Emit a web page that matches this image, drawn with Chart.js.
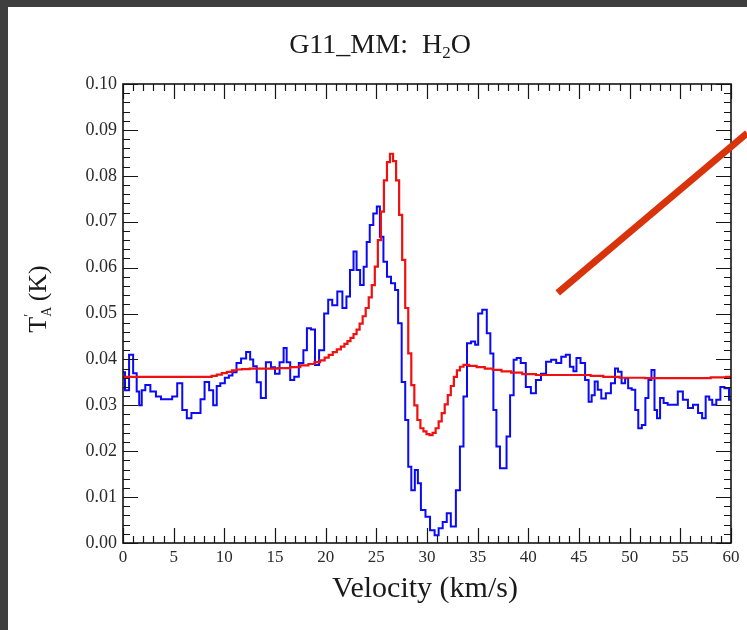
<!DOCTYPE html>
<html>
<head>
<meta charset="utf-8">
<script src="https://cdn.jsdelivr.net/npm/chart.js@4.4.1/dist/chart.umd.min.js"></script>
<style>
  html, body { margin: 0; padding: 0; background: #3f3f3f; }
  #panel { position: absolute; left: 8px; top: 7px; width: 739px; height: 623px; background: #fff; }
  #spectrum { position: absolute; left: 0; top: 0; }
</style>
</head>
<body>
<div id="panel"></div>
<canvas id="spectrum" width="747" height="630"></canvas>
<script>
// ---------- Data ----------
// observed H2O spectrum, blue histogram
var velocity = [
	0.0, 0.4, 0.8, 1.2, 1.5, 1.7, 2.0, 2.4, 3.0, 3.5, 4.0, 4.6, 5.1, 5.6, 6.1, 6.5, 7.0, 7.5, 7.8, 8.3,
	8.7, 9.1, 9.4, 9.8, 10.3, 10.6, 11.0, 11.4, 11.9, 12.4, 12.7, 13.0, 13.4, 13.8, 14.4, 14.8, 15.2, 15.7, 16.0, 16.3,
	16.7, 17.1, 17.6, 18.0, 18.3, 18.8, 19.1, 19.6, 20.1, 20.4, 20.9, 21.4, 21.9, 22.2, 22.6, 22.9, 23.2, 23.6, 23.9, 24.2,
	24.5, 24.9, 25.2, 25.5, 25.9, 26.2, 26.7, 27.0, 27.3, 27.7, 28.0, 28.3, 28.6, 29.0, 29.2, 29.6, 30.1, 30.5, 31.0, 31.3,
	31.8, 32.1, 32.6, 33.1, 33.4, 33.8, 34.1, 34.6, 34.9, 35.2, 35.7, 36.1, 36.4, 36.7, 37.0, 37.4, 37.7, 38.0, 38.4, 38.7,
	39.0, 39.5, 40.0, 40.5, 41.0, 41.5, 42.0, 42.5, 43.0, 43.5, 43.9, 44.3, 44.6, 44.9, 45.4, 45.8, 46.1, 46.4, 46.7, 47.0,
	47.4, 47.9, 48.4, 48.7, 49.0, 49.4, 49.7, 50.0, 50.4, 50.7, 51.0, 51.4, 51.7, 52.0, 52.3, 52.6, 52.8, 53.2, 53.5, 54.0,
	54.5, 55.0, 55.5, 56.0, 56.5, 57.0, 57.3, 57.7, 58.0, 58.3, 58.8, 59.1, 59.6, 60.0
];
var tObserved = [
	0.0372, 0.0333, 0.0410, 0.0370, 0.0330, 0.0300, 0.0333, 0.0344, 0.0330, 0.0319, 0.0313, 0.0313, 0.0319, 0.0348, 0.0290, 0.0272, 0.0283, 0.0283, 0.0313, 0.0351,
	0.0333, 0.0300, 0.0342, 0.0348, 0.0360, 0.0365, 0.0372, 0.0392, 0.0402, 0.0416, 0.0400, 0.0385, 0.0350, 0.0316, 0.0394, 0.0383, 0.0369, 0.0394, 0.0425, 0.0394,
	0.0355, 0.0362, 0.0392, 0.0420, 0.0468, 0.0465, 0.0388, 0.0420, 0.0500, 0.0530, 0.0518, 0.0548, 0.0512, 0.0537, 0.0595, 0.0635, 0.0595, 0.0562, 0.0602, 0.0656,
	0.0693, 0.0718, 0.0733, 0.0667, 0.0613, 0.0580, 0.0566, 0.0551, 0.0479, 0.0351, 0.0268, 0.0166, 0.0115, 0.0159, 0.0130, 0.0072, 0.0057, 0.0028, 0.0017, 0.0032,
	0.0046, 0.0065, 0.0036, 0.0115, 0.0210, 0.0319, 0.0435, 0.0439, 0.0432, 0.0500, 0.0508, 0.0457, 0.0413, 0.0290, 0.0210, 0.0163, 0.0163, 0.0232, 0.0322, 0.0399,
	0.0403, 0.0392, 0.0340, 0.0326, 0.0355, 0.0369, 0.0395, 0.0399, 0.0392, 0.0406, 0.0410, 0.0384, 0.0374, 0.0403, 0.0392, 0.0355, 0.0308, 0.0322, 0.0352, 0.0334,
	0.0315, 0.0326, 0.0348, 0.0380, 0.0373, 0.0348, 0.0359, 0.0337, 0.0334, 0.0290, 0.0250, 0.0257, 0.0316, 0.0355, 0.0377, 0.0290, 0.0272, 0.0316, 0.0305, 0.0301,
	0.0301, 0.0330, 0.0312, 0.0294, 0.0301, 0.0283, 0.0272, 0.0319, 0.0312, 0.0301, 0.0312, 0.0340, 0.0337, 0.0312
];

// model spectrum, red histogram
var modelVelocity = [
	0.0, 5.0, 8.5, 9.0, 9.5, 10.0, 10.5, 11.0, 11.5, 12.0, 13.0, 14.5, 16.0, 17.0, 18.0, 18.6, 19.2, 19.7, 20.1, 20.5,
	20.9, 21.3, 21.7, 22.0, 22.3, 22.6, 22.9, 23.2, 23.5, 23.8, 24.1, 24.4, 24.7, 25.0, 25.3, 25.6, 25.9, 26.2, 26.5, 26.8,
	27.1, 27.4, 27.7, 28.0, 28.3, 28.6, 28.9, 29.2, 29.5, 29.8, 30.1, 30.4, 30.7, 31.0, 31.3, 31.6, 31.9, 32.2, 32.5, 32.8,
	33.1, 33.4, 33.8, 34.5, 35.3, 36.1, 36.9, 37.8, 38.8, 40.0, 41.5, 43.5, 45.5, 46.8, 48.0, 50.0, 53.0, 57.0, 59.0, 60.0
];
var tModel = [
	0.0362, 0.0362, 0.0362, 0.0364, 0.0367, 0.0370, 0.0373, 0.0376, 0.0378, 0.0379, 0.0380, 0.0380, 0.0381, 0.0383, 0.0387, 0.0390, 0.0394, 0.0398, 0.0404, 0.0410,
	0.0416, 0.0422, 0.0428, 0.0434, 0.0440, 0.0447, 0.0455, 0.0465, 0.0478, 0.0494, 0.0512, 0.0535, 0.0562, 0.0602, 0.0660, 0.0722, 0.0790, 0.0830, 0.0848, 0.0832,
	0.0790, 0.0715, 0.0617, 0.0512, 0.0413, 0.0344, 0.0300, 0.0268, 0.0250, 0.0243, 0.0237, 0.0235, 0.0240, 0.0250, 0.0265, 0.0283, 0.0302, 0.0322, 0.0342, 0.0362,
	0.0376, 0.0384, 0.0388, 0.0386, 0.0383, 0.0380, 0.0377, 0.0374, 0.0371, 0.0368, 0.0366, 0.0366, 0.0366, 0.0364, 0.0362, 0.0360, 0.0359, 0.0359, 0.0361, 0.0362
];

var xTickValues = [0, 5, 10, 15, 20, 25, 30, 35, 40, 45, 50, 55, 60];
var yTickValues = [0.00, 0.01, 0.02, 0.03, 0.04, 0.05, 0.06, 0.07, 0.08, 0.09, 0.10];
var xMinorStep = 1;
var yMinorStep = 0.002;

// the slide's red pointer, in data units (start inside the plot, end off to the right)
var pointerFrom = [42.9, 0.0545];
var pointerTo = [61.6, 0.0893];

var SERIF = "'Liberation Serif', 'Times New Roman', serif";

function toPoints(xs, ys) {
	return xs.map(function (v, i) { return { x: v, y: ys[i] }; });
}

// ---------- Frame, inward ticks, titles ----------
var framePlugin = {
	id: 'frameTicks',
	afterDatasetsDraw: function (chart) {
		var ctx = chart.ctx;
		var a = chart.chartArea;
		var xs = chart.scales.x;
		var ys = chart.scales.y;
		var major = 15, minor = 7;
		var i, px, py, len;

		ctx.save();
		ctx.strokeStyle = '#151515';
		ctx.lineWidth = 1.2;
		ctx.beginPath();
		var nx = Math.round((xs.max - xs.min) / xMinorStep);
		for (i = 0; i <= nx; i++) {
			var v = xs.min + i * xMinorStep;
			px = Math.round(xs.getPixelForValue(v)) + 0.5;
			len = xTickValues.indexOf(v) >= 0 ? major : minor;
			ctx.moveTo(px, a.bottom); ctx.lineTo(px, a.bottom - len);
			ctx.moveTo(px, a.top); ctx.lineTo(px, a.top + len);
		}
		var ny = Math.round((ys.max - ys.min) / yMinorStep);
		for (i = 0; i <= ny; i++) {
			py = Math.round(ys.getPixelForValue(i * yMinorStep)) + 0.5;
			len = (i % 5 === 0) ? major : minor;
			ctx.moveTo(a.left, py); ctx.lineTo(a.left + len, py);
			ctx.moveTo(a.right, py); ctx.lineTo(a.right - len, py);
		}
		ctx.stroke();
		ctx.lineWidth = 1.6;
		ctx.strokeRect(a.left, a.top, a.right - a.left, a.bottom - a.top);
		ctx.restore();
	},
	afterDraw: function (chart) {
		var ctx = chart.ctx;
		var a = chart.chartArea;
		var xs = chart.scales.x;
		var ys = chart.scales.y;
		var cx = (a.left + a.right) / 2;

		ctx.save();
		ctx.fillStyle = '#1a1a1a';
		ctx.textBaseline = 'alphabetic';

		// title: G11_MM:  H2O with subscript 2
		var big = '28px ' + SERIF, small = '17px ' + SERIF;
		var t1 = 'G11_MM:  H', t2 = '2', t3 = 'O';
		ctx.font = big;
		var w1 = ctx.measureText(t1).width, w3 = ctx.measureText(t3).width;
		ctx.font = small;
		var w2 = ctx.measureText(t2).width;
		var x0 = 380 - (w1 + w2 + w3) / 2, base = 53;
		ctx.textAlign = 'left';
		ctx.font = big; ctx.fillText(t1, x0, base);
		ctx.font = small; ctx.fillText(t2, x0 + w1, base + 5);
		ctx.font = big; ctx.fillText(t3, x0 + w1 + w2, base);

		// x axis title
		ctx.font = '30px ' + SERIF;
		ctx.textAlign = 'center';
		ctx.fillText('Velocity (km/s)', cx - 2, 597);

		// y axis title: T'_A (K), rotated
		ctx.translate(46, (a.top + a.bottom) / 2 - 16);
		ctx.rotate(-Math.PI / 2);
		ctx.textAlign = 'left';
		ctx.font = '26px ' + SERIF;
		var wT = ctx.measureText('T').width;
		var yl = -(wT + 12 + ctx.measureText(' (K)').width) / 2;
		ctx.fillText('T', yl, 0);
		ctx.font = '14px ' + SERIF;
		ctx.fillText('\u2032', yl + wT, -12);
		ctx.fillText('A', yl + wT, 5);
		ctx.font = '26px ' + SERIF;
		ctx.fillText(' (K)', yl + wT + 9, 0);
		ctx.restore();

		// red pointer drawn over the slide
		ctx.save();
		ctx.strokeStyle = '#d9330c';
		ctx.lineWidth = 7;
		ctx.lineCap = 'butt';
		ctx.beginPath();
		ctx.moveTo(xs.getPixelForValue(pointerFrom[0]), ys.getPixelForValue(pointerFrom[1]));
		ctx.lineTo(xs.getPixelForValue(pointerTo[0]), ys.getPixelForValue(pointerTo[1]));
		ctx.stroke();
		ctx.restore();
	}
};

// ---------- Chart ----------
var chartCtx = document.getElementById('spectrum').getContext('2d');
new Chart(chartCtx, {
	type: 'line',
	data: {
		datasets: [{
			label: 'model',
			data: toPoints(modelVelocity, tModel),
			borderColor: '#f01010',
			borderWidth: 2.2,
			stepped: 'middle',
			pointRadius: 0,
			fill: false
		}, {
			label: 'observed',
			data: toPoints(velocity, tObserved),
			borderColor: '#0a0af5',
			borderWidth: 2,
			stepped: 'middle',
			pointRadius: 0,
			fill: false
		}]
	},
	options: {
		responsive: false,
		animation: false,
		devicePixelRatio: 1,
		layout: { padding: { left: 0, top: 84, right: 16, bottom: 0 } },
		plugins: {
			legend: { display: false },
			title: { display: false },
			tooltip: { enabled: false }
		},
		scales: {
			x: {
				type: 'linear',
				min: 0,
				max: 60,
				afterBuildTicks: function (s) { s.ticks = xTickValues.map(function (v) { return { value: v }; }); },
				afterFit: function (s) { s.height = 87; },
				grid: { display: false, drawTicks: false },
				border: { display: false },
				ticks: {
					padding: 4,
					maxRotation: 0,
					color: '#2a2a2a',
					font: { family: SERIF, size: 17 }
				}
			},
			y: {
				type: 'linear',
				min: 0,
				max: 0.1,
				afterBuildTicks: function (s) { s.ticks = yTickValues.map(function (v) { return { value: v }; }); },
				afterFit: function (s) { s.width = 123; },
				grid: { display: false, drawTicks: false },
				border: { display: false },
				ticks: {
					padding: 6,
					color: '#2a2a2a',
					font: { family: SERIF, size: 18 },
					callback: function (v) { return Number(v).toFixed(2); }
				}
			}
		}
	},
	plugins: [framePlugin]
});
</script>
</body>
</html>
